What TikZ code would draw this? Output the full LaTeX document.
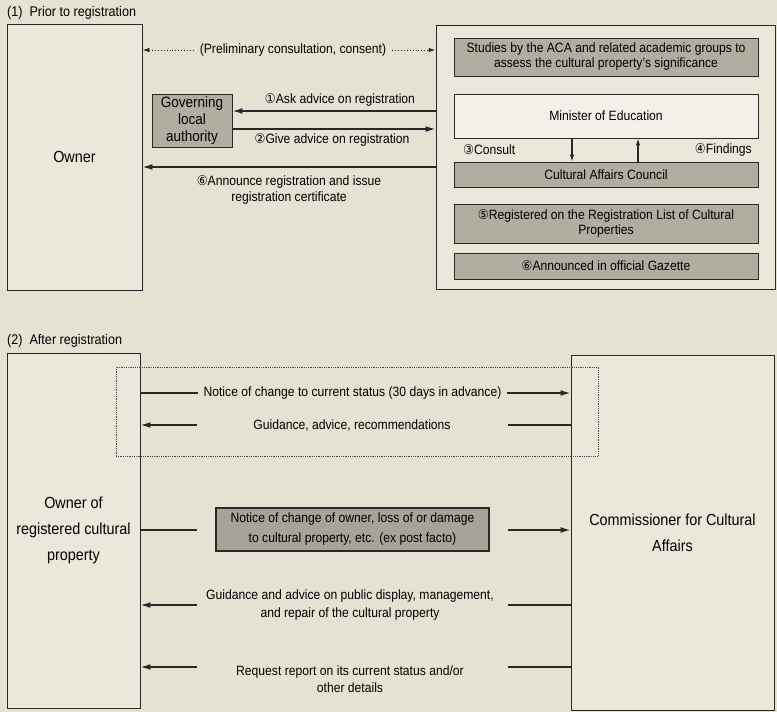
\documentclass[tikz,border=0pt]{standalone}
\usepackage{fontspec}
\setmainfont{Liberation Sans}[FakeStretch=0.9]
\newfontfamily\djv{DejaVu Sans}[FakeStretch=0.9]
\usetikzlibrary{arrows.meta}
\definecolor{bgc}{RGB}{229,226,211}
\definecolor{boxc}{RGB}{234,231,219}
\definecolor{grayc}{RGB}{176,173,161}
\definecolor{darkgrayc}{RGB}{166,163,152}
\definecolor{whitec}{RGB}{242,240,233}
\definecolor{linec}{RGB}{40,40,40}
\newcommand{\cn}[1]{{\djv #1}}
\tikzset{
  bigbox/.style={draw=linec, line width=0.9pt, fill=boxc, inner sep=0pt, align=center},
  graybox/.style={draw=linec, line width=0.9pt, fill=grayc, inner sep=0pt, align=center, font=\fontsize{13.5}{15}\selectfont},
  whitebox/.style={draw=linec, line width=0.9pt, fill=whitec, inner sep=0pt, align=center, font=\fontsize{13.5}{15}\selectfont},
  lbl/.style={font=\fontsize{13.5}{16}\selectfont, align=center, inner sep=0pt},
  biglbl/.style={font=\fontsize{16}{26}\selectfont},
  arr/.style={draw=linec, line width=1.6pt, -{Latex[length=10pt,width=6pt]}},
  smallarr/.style={draw=linec, line width=1.1pt, -{Latex[length=7pt,width=4.5pt]}},
  plainline/.style={draw=linec, line width=1.6pt},
  dotarr/.style={draw=linec, line width=0.9pt, dotted, -{Latex[length=7pt,width=4.5pt]}},
  ttl/.style={font=\fontsize{14}{16}\selectfont, anchor=west, inner sep=0pt},
}
\begin{document}
\begin{tikzpicture}[x=1pt,y=-1pt]
\fill[bgc] (0,0) rectangle (777,712);
\useasboundingbox (0,0) rectangle (777,712);

% ---------- Part 1 ----------
\node[ttl] (t1) at (7,13) {(1)\hspace{7pt}Prior to registration};
\node[bigbox, biglbl, minimum width=135, minimum height=266] (owner1) at (74.5,157) {Owner};
\node[bigbox, minimum width=339, minimum height=264] (right1) at (605.5,157) {};
\node[graybox, minimum width=304, minimum height=38] (studies) at (606,57) {Studies by the ACA and related academic groups to\\assess the cultural property's significance};
\node[whitebox, minimum width=304, minimum height=44] (minister) at (606,116) {Minister of Education};
\node[graybox, minimum width=304, minimum height=25] (council) at (606,174.5) {Cultural Affairs Council};
\node[graybox, minimum width=304, minimum height=39] (reg) at (606,223.5) {\cn{⑤}Registered on the Registration List of Cultural\\Properties};
\node[graybox, minimum width=304, minimum height=26] (gaz) at (606,266) {\cn{⑥}Announced in official Gazette};
\node[graybox, minimum width=80, minimum height=53, font=\fontsize{15}{17}\selectfont] (gov) at (192,120.5) {Governing\\local\\authority};

\node[lbl, inner sep=6pt] (prelim) at (293,50) {(Preliminary consultation, consent)};
\draw[dotarr] (prelim.west) -- (owner1.east |- prelim.west);
\draw[dotarr] (prelim.east) -- (right1.west |- prelim.east);

\coordinate (y1) at (0,111);
\coordinate (y2) at (0,129);
\coordinate (y6) at (0,167);
\draw[arr] (right1.west |- y1) -- (gov.east |- y1);
\draw[arr] (gov.east |- y2) -- (right1.west |- y2);
\draw[arr] (right1.west |- y6) -- (owner1.east |- y6);
\node[lbl] (l1) at (340,100) {\cn{①}Ask advice on registration};
\node[lbl] (l2) at (332,140) {\cn{②}Give advice on registration};
\node[lbl] (l6) at (289,190) {\cn{⑥}Announce registration and issue\\registration certificate};

\coordinate (dx) at (572,0);
\coordinate (ux) at (638,0);
\draw[smallarr] (minister.south -| dx) -- (council.north -| dx);
\draw[smallarr] (council.north -| ux) -- (minister.south -| ux);
\node[lbl, anchor=west] (c3) at (463,150) {\cn{③}Consult};
\node[lbl, anchor=east] (c4) at (752,150) {\cn{④}Findings};

% ---------- Part 2 ----------
\node[ttl] (t2) at (7,341) {(2)\hspace{7pt}After registration};
\node[bigbox, biglbl, minimum width=133, minimum height=355] (owner2) at (73.5,530.5) {Owner of\\registered cultural\\property};
\node[bigbox, biglbl, minimum width=203, minimum height=355] (comm) at (672.5,532.5) {Commissioner for Cultural\\Affairs};
\node[draw=linec!85, densely dotted, line width=0.8pt, minimum width=482, minimum height=89] (dbox) at (357,411.5) {};

\node[lbl, inner sep=5pt] (n1) at (352.5,393) {Notice of change to current status (30 days in advance)};
\draw[plainline] (owner2.east |- n1.west) -- (n1.west);
\draw[arr] (n1.east) -- (comm.west |- n1.east);

\node[lbl] (n2) at (352,425) {Guidance, advice, recommendations};
\coordinate (g2l) at (197,425);
\coordinate (g2r) at (508,425);
\draw[arr] (g2l) -- (owner2.east |- g2l);
\draw[plainline] (comm.west |- g2r) -- (g2r);

\node[graybox, fill=darkgrayc, line width=1.3pt, minimum width=273, minimum height=43, font=\fontsize{13.5}{20}\selectfont] (n3) at (352.5,529.5) {Notice of change of owner, loss of or damage\\to cultural property, etc. (ex post facto)};
\coordinate (g3l) at (197,530);
\coordinate (g3r) at (508,530);
\draw[plainline] (owner2.east |- g3l) -- (g3l);
\draw[arr] (g3r) -- (comm.west |- g3r);

\node[lbl, font=\fontsize{13.5}{18}\selectfont] (n4) at (350,605) {Guidance and advice on public display, management,\\and repair of the cultural property};
\coordinate (g4l) at (197,605);
\coordinate (g4r) at (508,605);
\draw[arr] (g4l) -- (owner2.east |- g4l);
\draw[plainline] (comm.west |- g4r) -- (g4r);

\node[lbl, font=\fontsize{13.5}{17}\selectfont] (n5) at (350,679) {Request report on its current status and/or\\other details};
\coordinate (g5l) at (197,667);
\coordinate (g5r) at (508,667);
\draw[arr] (g5l) -- (owner2.east |- g5l);
\draw[plainline] (comm.west |- g5r) -- (g5r);
\end{tikzpicture}
\end{document}
